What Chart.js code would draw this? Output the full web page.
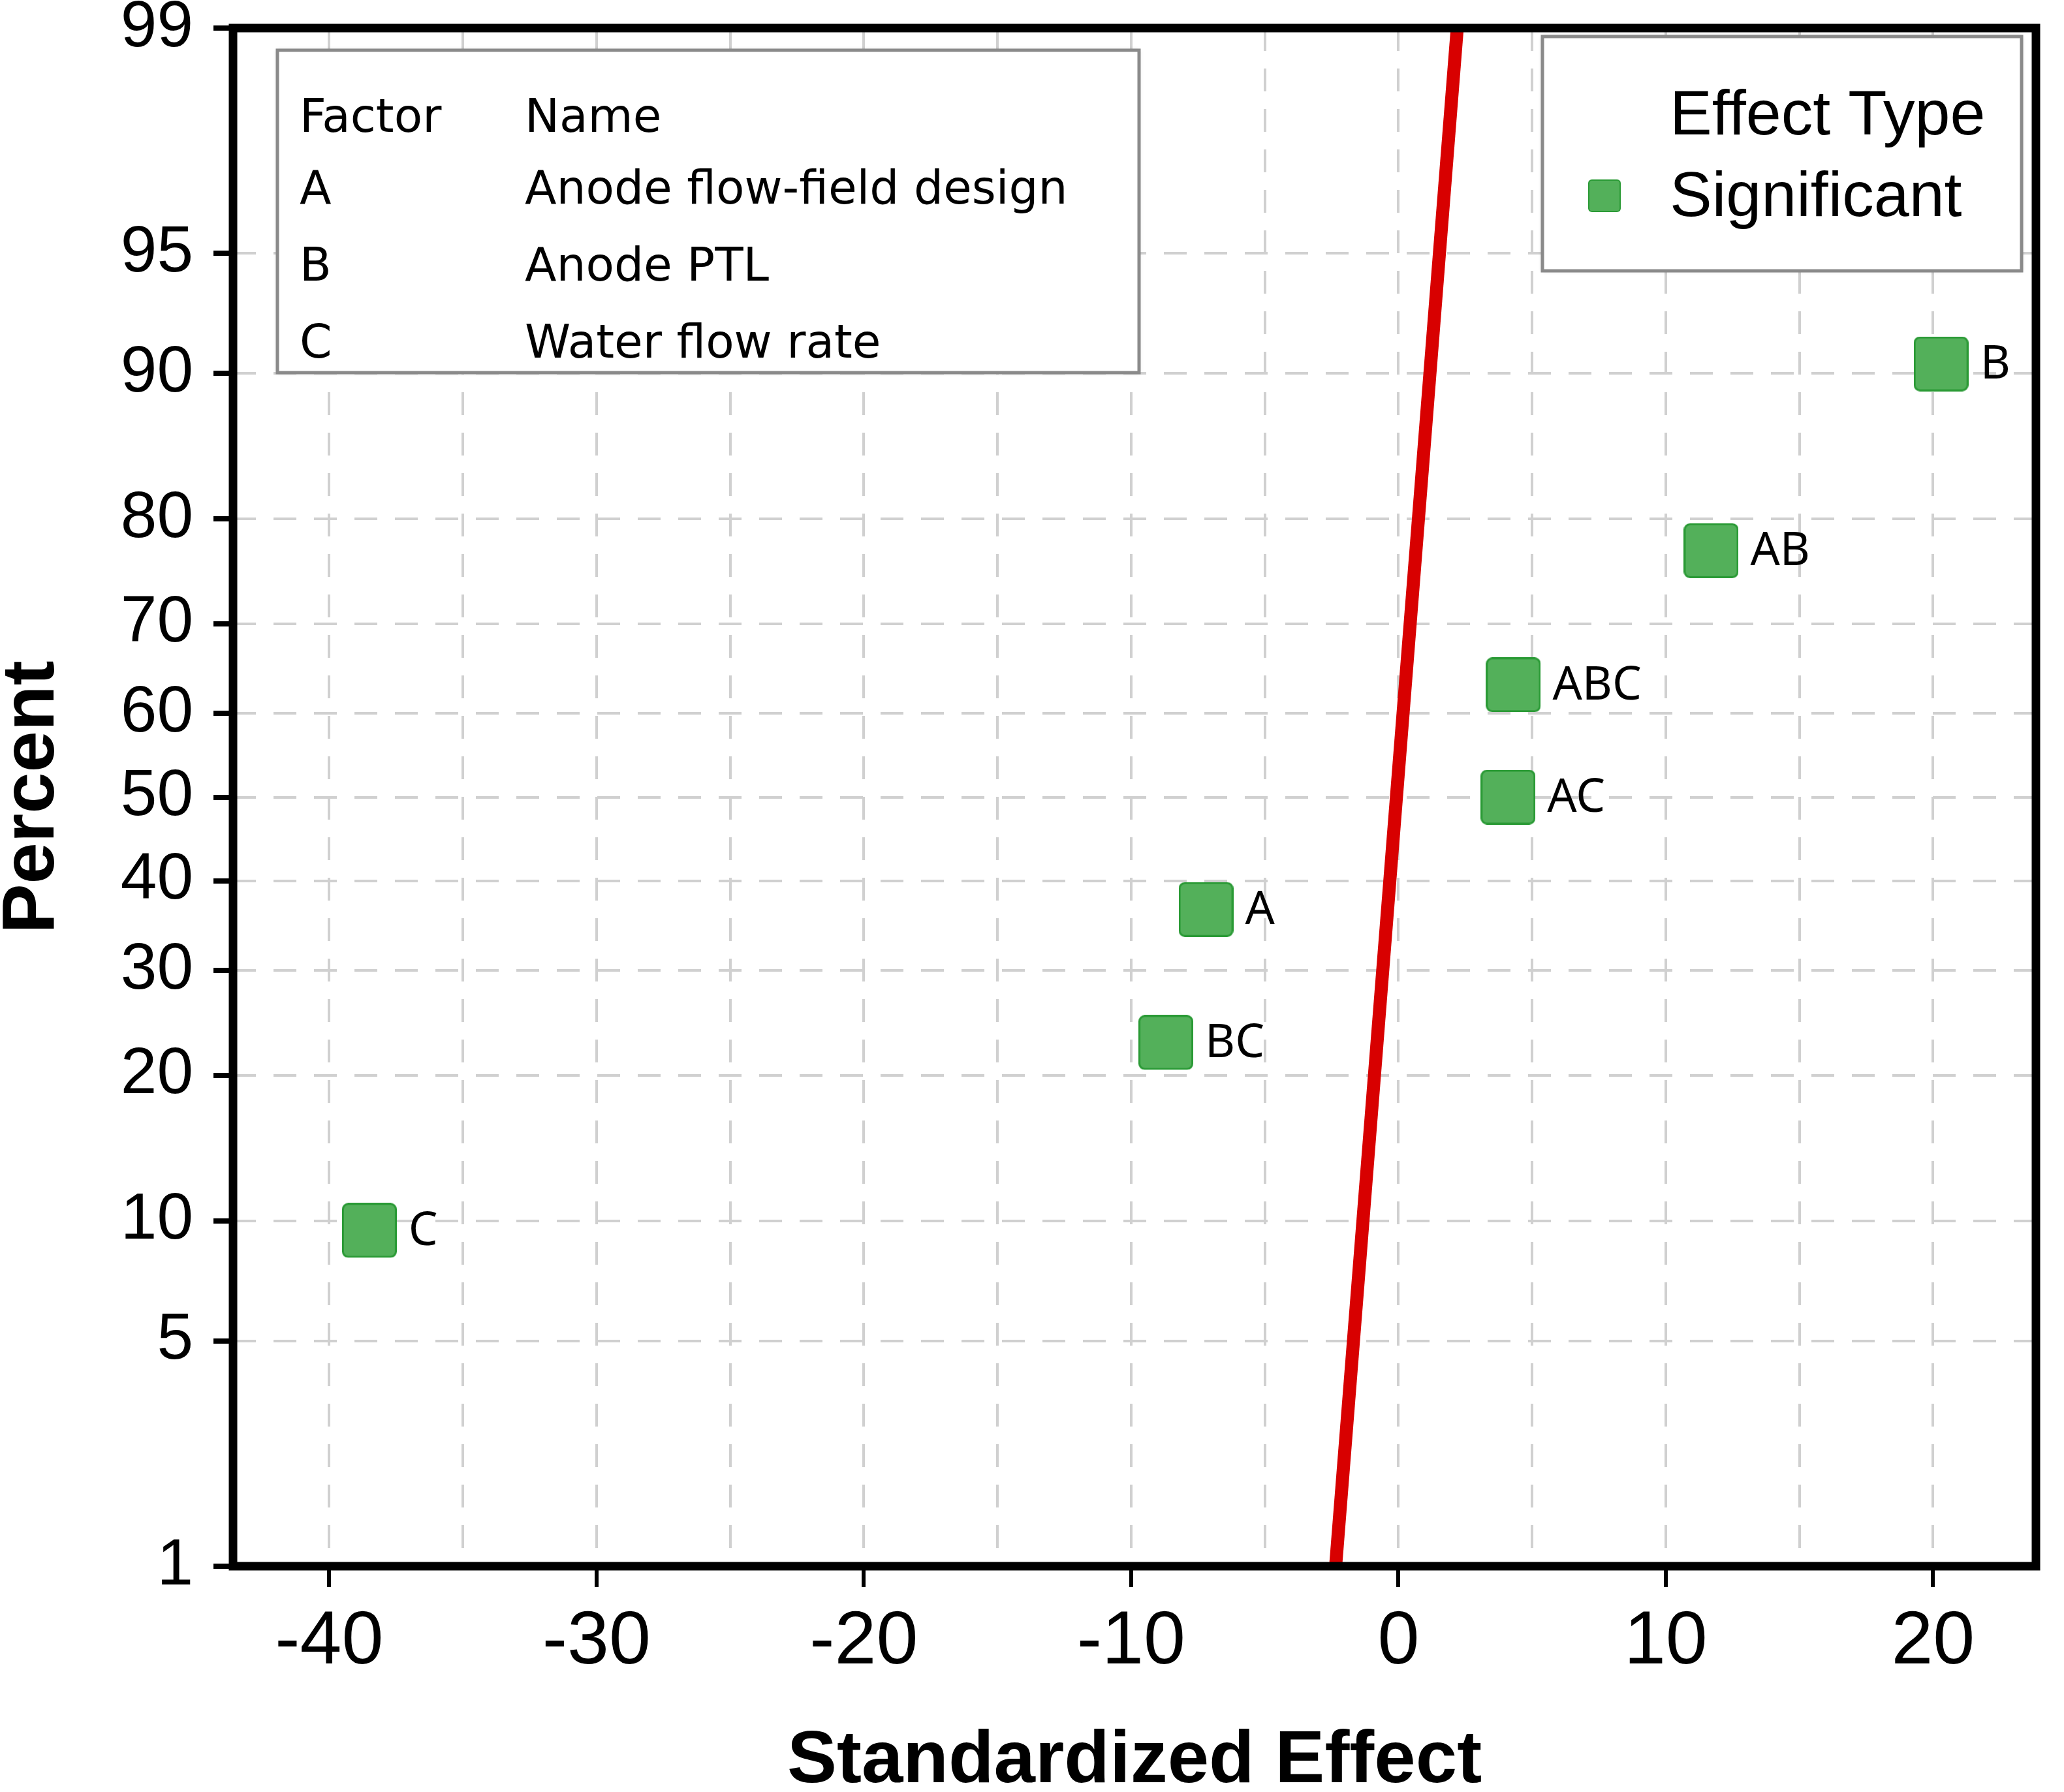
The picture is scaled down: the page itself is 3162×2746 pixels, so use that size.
<!DOCTYPE html>
<html lang="en">
<head>
<meta charset="UTF-8" />
<title>Normal Plot of Standardized Effects</title>
<script src="https://cdn.jsdelivr.net/npm/chart.js"></script>
<style>
  html, body { margin: 0; padding: 0; background: #fff; }
  #wrap { width: 3162px; height: 2746px; position: relative; }
</style>
</head>
<body>
<div id="wrap"><canvas id="effectChart"></canvas></div>
<script>
// effects
const effectLabels = ['C', 'BC', 'A', 'AC', 'ABC', 'AB', 'B'];
const effectValues = [-38.5, -8.7, -7.2, 4.1, 4.3, 11.7, 20.3];
const effectPercents = [9.5, 22.9, 36.7, 50, 63.3, 77.2, 90.5];

// red reference line (ends at 1% and 99%)
const lineEffects = [-2.35, 2.2];
const linePercents = [1, 99];

const yTickPercents = [1, 5, 10, 20, 30, 40, 50, 60, 70, 80, 90, 95, 99];
const xGridValues = [-40, -35, -30, -25, -20, -15, -10, -5, 0, 5, 10, 15, 20];
const xMin = -43.6;
const xMax = 23.85;

const factorCodes = ['A', 'B', 'C'];
const factorNames = ['Anode flow-field design', 'Anode PTL', 'Water flow rate'];
const legendTitle = 'Effect Type';
const seriesName = 'Significant';

const markerFill = '#53b05a';
const markerEdge = '#2a9a35';

// inverse normal cdf (Acklam)
function probit(p) {
    const a = [-3.969683028665376e+01, 2.209460984245205e+02, -2.759285104469687e+02, 1.383577518672690e+02, -3.066479806614716e+01, 2.506628277459239e+00];
    const b = [-5.447609879822406e+01, 1.615858368580409e+02, -1.556989798598866e+02, 6.680131188771972e+01, -1.328068155288572e+01];
    const c = [-7.784894002430293e-03, -3.223964580411365e-01, -2.400758277161838e+00, -2.549671750411839e+00, 4.374664141464968e+00, 2.938163982698783e+00];
    const d = [7.784695709041462e-03, 3.224671290700398e-01, 2.445134137142996e+00, 3.754408661907416e+00];
    const pl = 0.02425;
    let q, r;
    if (p < pl) {
        q = Math.sqrt(-2 * Math.log(p));
        return (((((c[0]*q+c[1])*q+c[2])*q+c[3])*q+c[4])*q+c[5]) / ((((d[0]*q+d[1])*q+d[2])*q+d[3])*q+1);
    }
    if (p > 1 - pl) {
        q = Math.sqrt(-2 * Math.log(1 - p));
        return -(((((c[0]*q+c[1])*q+c[2])*q+c[3])*q+c[4])*q+c[5]) / ((((d[0]*q+d[1])*q+d[2])*q+d[3])*q+1);
    }
    q = p - 0.5;
    r = q * q;
    return (((((a[0]*r+a[1])*r+a[2])*r+a[3])*r+a[4])*r+a[5])*q / (((((b[0]*r+b[1])*r+b[2])*r+b[3])*r+b[4])*r+1);
}

function makeMarker(size, radius) {
    const cv = document.createElement('canvas');
    cv.width = size;
    cv.height = size;
    const g = cv.getContext('2d');
    g.fillStyle = markerFill;
    g.strokeStyle = markerEdge;
    g.lineWidth = 3;
    g.beginPath();
    g.roundRect(1.5, 1.5, size - 3, size - 3, radius);
    g.fill();
    g.stroke();
    return cv;
}
const marker = makeMarker(84, 8);

function drawBox(ctx, x, y, w, h) {
    ctx.save();
    ctx.shadowColor = 'rgba(0,0,0,0.25)';
    ctx.shadowBlur = 6;
    ctx.fillStyle = '#fff';
    ctx.fillRect(x, y, w, h);
    ctx.shadowBlur = 0;
    ctx.strokeStyle = '#8a8a8a';
    ctx.lineWidth = 5;
    ctx.strokeRect(x, y, w, h);
    ctx.restore();
}

const extrasPlugin = {
    id: 'extras',
    beforeDatasetsDraw(chart) {
        const ctx = chart.ctx;
        // factor table
        drawBox(ctx, 425, 77, 1320, 494);
        ctx.save();
        ctx.fillStyle = '#000';
        ctx.font = '71px "DejaVu Sans"';
        ctx.textBaseline = 'middle';
        ctx.textAlign = 'left';
        const rows = [184, 294, 412, 530];
        ctx.fillText('Factor', 459, rows[0]);
        ctx.fillText('Name', 804, rows[0]);
        factorCodes.forEach((f, i) => {
            ctx.fillText(f, 459, rows[i + 1]);
            ctx.fillText(factorNames[i], 804, rows[i + 1]);
        });
        ctx.restore();

        // effect type legend
        drawBox(ctx, 2363, 56, 734, 359);
        ctx.save();
        ctx.fillStyle = '#000';
        ctx.font = '97px "Liberation Sans"';
        ctx.textBaseline = 'middle';
        ctx.fillText(legendTitle, 2558, 179);
        ctx.fillText(seriesName, 2558, 304);
        ctx.drawImage(marker, 2433, 275, 50, 50);
        ctx.restore();
    },
    afterDatasetsDraw(chart) {
        const ctx = chart.ctx;
        const meta = chart.getDatasetMeta(0);
        ctx.save();
        ctx.fillStyle = '#000';
        ctx.font = '71px "Noto Sans"';
        ctx.textBaseline = 'middle';
        ctx.textAlign = 'left';
        meta.data.forEach((pt, i) => {
            ctx.fillText(effectLabels[i], pt.x + 60, pt.y + 2);
        });
        // plot frame
        const a = chart.chartArea;
        ctx.strokeStyle = '#000';
        ctx.lineWidth = 13;
        ctx.strokeRect(a.left, a.top, a.right - a.left, a.bottom - a.top);
        ctx.restore();
    }
};

new Chart(document.getElementById('effectChart'), {
    type: 'scatter',
    data: {
        datasets: [
            {
                label: seriesName,
                data: effectValues.map((v, i) => ({ x: v, y: probit(effectPercents[i] / 100) })),
                pointStyle: marker,
                pointRadius: 42,
                pointHoverRadius: 42
            },
            {
                type: 'line',
                label: 'fit',
                data: lineEffects.map((v, i) => ({ x: v, y: probit(linePercents[i] / 100) })),
                borderColor: '#d80000',
                borderWidth: 20,
                pointRadius: 0,
                showLine: true,
                fill: false
            }
        ]
    },
    options: {
        responsive: true,
        maintainAspectRatio: false,
        animation: false,
        devicePixelRatio: 1,
        layout: { padding: { top: 35, right: 17, left: 0, bottom: 0 } },
        plugins: {
            legend: { display: false },
            tooltip: { enabled: false }
        },
        scales: {
            x: {
                type: 'linear',
                position: 'bottom',
                min: xMin,
                max: xMax,
                afterBuildTicks: (scale) => {
                    scale.ticks = xGridValues.map(v => ({ value: v }));
                },
                afterFit: (scale) => {
                    scale.height = 346;
                    scale.paddingLeft = 0;
                    scale.paddingRight = 0;
                },
                border: { display: false, dash: [35, 27] },
                grid: {
                    color: '#d0d0d0',
                    lineWidth: 4,
                    drawTicks: true,
                    tickLength: 32,
                    tickWidth: 6,
                    tickColor: (c) => (c.tick && c.tick.value % 10 === 0) ? '#000' : 'rgba(0,0,0,0)'
                },
                ticks: {
                    autoSkip: false,
                    maxRotation: 0,
                    padding: 16,
                    color: '#000',
                    font: { family: 'Liberation Sans', size: 115 },
                    callback: (value) => value % 10 === 0 ? String(value) : ''
                },
                title: {
                    display: true,
                    text: 'Standardized Effect',
                    color: '#000',
                    padding: 0,
                    font: { family: 'Liberation Sans', weight: 'bold', size: 114, lineHeight: 0.82 }
                }
            },
            y: {
                type: 'linear',
                position: 'left',
                min: probit(yTickPercents[0] / 100),
                max: probit(yTickPercents[yTickPercents.length - 1] / 100),
                afterBuildTicks: (scale) => {
                    scale.ticks = yTickPercents.map(p => ({ value: probit(p / 100) }));
                },
                afterFit: (scale) => {
                    scale.width = 357;
                    scale.paddingTop = 0;
                    scale.paddingBottom = 0;
                },
                border: { display: false, dash: [35, 27] },
                grid: {
                    color: '#d0d0d0',
                    lineWidth: 4,
                    drawTicks: true,
                    tickLength: 30,
                    tickWidth: 8,
                    tickColor: '#000'
                },
                ticks: {
                    autoSkip: false,
                    padding: 31,
                    color: '#000',
                    font: { family: 'Liberation Sans', size: 100 },
                    callback: (value, index) => String(yTickPercents[index])
                },
                title: {
                    display: true,
                    text: 'Percent',
                    color: '#000',
                    padding: 0,
                    font: { family: 'Liberation Sans', weight: 'bold', size: 114, lineHeight: 0.88 }
                }
            }
        }
    },
    plugins: [extrasPlugin]
});
</script>
</body>
</html>
